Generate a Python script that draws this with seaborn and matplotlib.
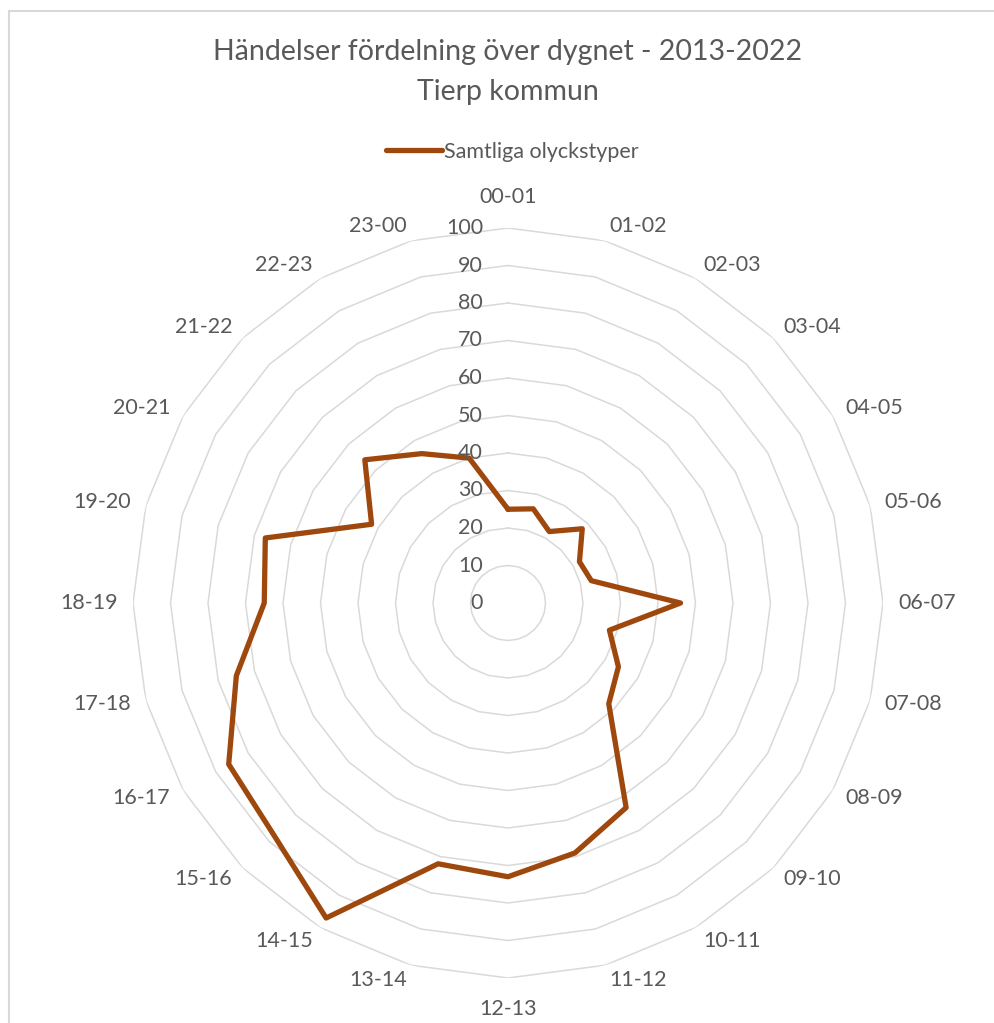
import numpy as np
import pandas as pd
import matplotlib
matplotlib.use("Agg")
import matplotlib.pyplot as plt
import matplotlib.transforms as mtransforms
from matplotlib.lines import Line2D
import seaborn as sns

# ---- data ----
categories = ["00-01", "01-02", "02-03", "03-04", "04-05", "05-06", "06-07", "07-08",
              "08-09", "09-10", "10-11", "11-12", "12-13", "13-14", "14-15", "15-16",
              "16-17", "17-18", "18-19", "19-20", "20-21", "21-22", "22-23", "23-00"]
values = [25, 26, 22, 28, 22, 23, 46, 28, 34, 38, 63, 69, 73, 72, 97, 88,
          86, 75, 65, 67, 42, 54, 46, 40]
radial_ticks = [0, 10, 20, 30, 40, 50, 60, 70, 80, 90, 100]
series_name = "Samtliga olyckstyper"
title_line1 = "Händelser fördelning över dygnet - 2013-2022"
title_line2 = "Tierp kommun"

# ---- style ----
sns.set_style("white")
plt.rcParams['font.family'] = ['Lato', 'DejaVu Sans']
TXT = "#595959"
GRID = "#d9d9d9"
LINE = "#9E480E"

W, H = 994, 1023
fig = plt.figure(figsize=(W / 100, H / 100), dpi=100)
cx, cy, R = 508, 603, 375
ax = fig.add_axes([(cx - R) / W, (H - cy - R) / H, 2 * R / W, 2 * R / H], projection='polar')
ax.set_theta_zero_location('N')
ax.set_theta_direction(-1)
ax.set_ylim(0, 100)
ax.grid(False)
ax.spines['polar'].set_visible(False)
ax.set_xticks([])
ax.set_yticks([])
ax.patch.set_alpha(0)

n = len(categories)
theta = np.arange(n) * 2 * np.pi / n
theta_c = np.append(theta, 2 * np.pi)

# polygon gridlines
for t in radial_ticks[1:]:
    ax.plot(theta_c, [t] * (n + 1), color=GRID, lw=1.1, zorder=1)

df = pd.DataFrame({"theta": theta_c, "value": values + values[:1]})
sns.lineplot(data=df, x="theta", y="value", sort=False, estimator=None, ax=ax,
             color=LINE, lw=3.8, zorder=3, legend=False)
for l in ax.lines[-1:]:
    l.set_solid_joinstyle('round')
    l.set_solid_capstyle('round')
ax.set_xlabel("")
ax.set_ylabel("")

# category labels
px2data = 100 / R
for i, lab in enumerate(categories):
    s = np.sin(theta[i])
    if abs(s) < 1e-6:
        ax.text(theta[i], (R + 31) * px2data, lab, ha='center', va='center',
                fontsize=15.5, color=TXT, clip_on=False)
    else:
        ax.text(theta[i], (R + 15) * px2data, lab, ha='left' if s > 0 else 'right',
                va='center', fontsize=15.5, color=TXT, clip_on=False)

# radial labels
off = mtransforms.offset_copy(ax.transData, fig=fig, x=-25, y=0, units='dots')
for t in radial_ticks:
    ax.text(0, t, str(t), transform=off, ha='right', va='center', fontsize=15.5,
            color=TXT, clip_on=False)

# title
fig.text(cx / W, 1 - 52 / H, title_line1, ha='center', va='center', fontsize=20.5,
         color=TXT)
fig.text(cx / W, 1 - 92 / H, title_line2, ha='center', va='center', fontsize=20.5,
         color=TXT)

# legend
handle = Line2D([], [], color=LINE, lw=3.8, solid_capstyle='round')
fig.legend([handle], [series_name], loc='center', bbox_to_anchor=(512 / W, 1 - 152 / H),
           frameon=False, fontsize=15.5, labelcolor=TXT, handlelength=2.6,
           handletextpad=0.1)

# chart border (Excel chart area)
fig.add_artist(Line2D([9 / W, 9 / W], [0, 1 - 11 / H], color=GRID, lw=1.5))
fig.add_artist(Line2D([9 / W, 1], [1 - 11 / H, 1 - 11 / H], color=GRID, lw=1.5))

fig.savefig("out.png", dpi=100)
